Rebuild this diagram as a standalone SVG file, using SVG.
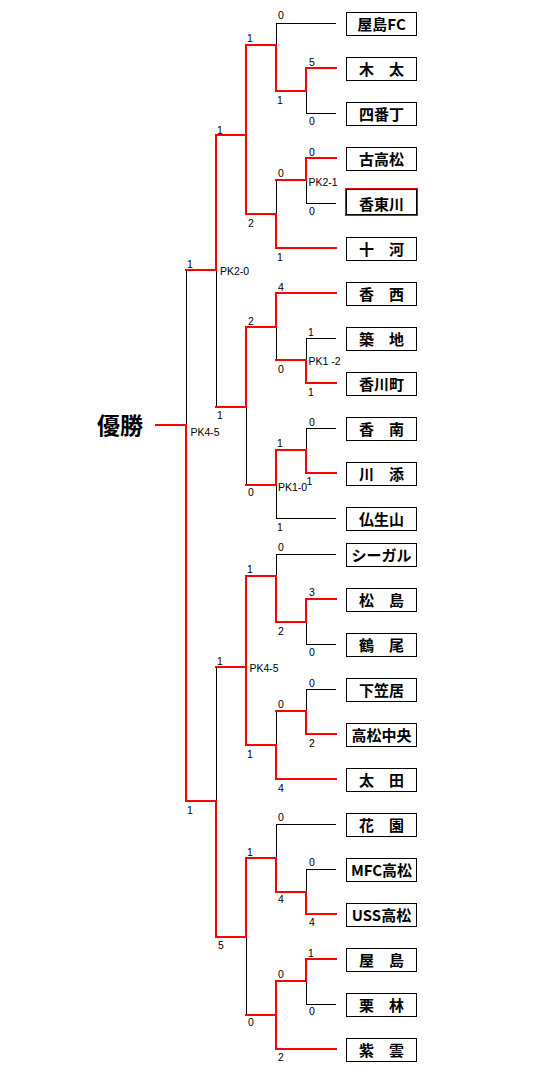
<svg xmlns="http://www.w3.org/2000/svg" width="540" height="1075" viewBox="0 0 540 1075">
<style>
.k{fill:none;stroke:#000;stroke-width:1}
.r{fill:none;stroke:#ff0000;stroke-width:2;stroke-linecap:square}
.box{fill:#fff;stroke:#000;stroke-width:1}
.tn{font-family:"Noto Sans CJK JP","Noto Sans CJK SC",sans-serif;font-weight:bold;font-size:15px;text-anchor:middle;fill:#000}
.s{font-family:"Liberation Sans",Arial,sans-serif;font-size:10.5px;fill:#000}
.win{font-family:"Noto Sans CJK JP","Noto Sans CJK SC",sans-serif;font-weight:bold;font-size:23px;fill:#000}
</style>
<rect width="540" height="1075" fill="#fff"/>
<g id="connectors">
<path class="k" d="M276,23.5H336 M306,113.5H336 M306.5,91V113 M276.5,23V45
M306,203.5H336 M306.5,180V203 M276.5,180V214
M306,338.5H336 M306.5,338V360 M276.5,327V360
M306,428.5H336 M306.5,428V450 M276,518.5H336 M276.5,485V518
M246.5,407V485 M216.5,270V407 M186.5,270V425
M276,554.5H336 M276.5,554V576 M306,644.5H336 M306.5,622V644
M306,689.5H336 M306.5,689V711 M276.5,711V745
M276,824.5H336 M276.5,824V858 M306,869.5H336 M306.5,869V892
M306,1004.5H336 M306.5,981V1004
M246.5,937V1015 M216.5,667V801"/>
<path class="r" d="M306,68H336 M306,68V91 M276,91H306 M276,45V91 M246,45H276
M306,158H336 M306,158V180 M276,180H306 M276,248H336 M276,214V248 M246,214H276
M246,45V214 M216,135H246
M276,293H336 M306,383H336 M306,360V383 M276,360H306 M276,293V327 M246,327H276
M306,473H336 M306,450V473 M276,450H306 M276,450V485 M246,485H276
M246,327V407 M216,407H246
M216,135V270 M186,270H216
M186,425V801 M156,425H186
M306,599H336 M306,599V622 M276,622H306 M276,576V622 M246,576H276
M306,734H336 M306,711V734 M276,711H306 M276,779H336 M276,745V779 M246,745H276
M246,576V745 M216,667H246
M306,914H336 M306,892V914 M276,892H306 M276,858V892 M246,858H276
M306,959H336 M306,959V981 M276,981H306 M276,981V1049 M276,1049H336 M246,1015H276
M246,858V937 M216,937H246
M216,801V937 M186,801H216"/>
</g>
<g id="scores">
<text class="s" x="278" y="19">0</text>
<text class="s" x="309" y="66">5</text>
<text class="s" x="309" y="125">0</text>
<text class="s" x="277" y="104">1</text>
<text class="s" x="247" y="42">1</text>
<text class="s" x="309" y="156">0</text>
<text class="s" x="309" y="215">0</text>
<text class="s" x="308.5" y="186">PK2-1</text>
<text class="s" x="278" y="177">0</text>
<text class="s" x="277" y="261">1</text>
<text class="s" x="248" y="227">2</text>
<text class="s" x="217" y="134">1</text>
<text class="s" x="187" y="268">1</text>
<text class="s" x="220" y="275">PK2-0</text>
<text class="s" x="278" y="291">4</text>
<text class="s" x="308" y="336">1</text>
<text class="s" x="308" y="396">1</text>
<text class="s" x="308.5" y="365">PK1 -2</text>
<text class="s" x="278" y="373">0</text>
<text class="s" x="248" y="325">2</text>
<text class="s" x="217" y="419">1</text>
<text class="s" x="309" y="426">0</text>
<text class="s" x="306.5" y="485">1</text>
<text class="s" x="277" y="447">1</text>
<text class="s" x="278" y="491">PK1-0</text>
<text class="s" x="277" y="531">1</text>
<text class="s" x="248" y="496">0</text>
<text class="s" x="190.5" y="436">PK4-5</text>
<text class="s" x="278" y="551">0</text>
<text class="s" x="309" y="596">3</text>
<text class="s" x="309" y="656">0</text>
<text class="s" x="278" y="635">2</text>
<text class="s" x="247" y="573">1</text>
<text class="s" x="217" y="665">1</text>
<text class="s" x="249.5" y="672">PK4-5</text>
<text class="s" x="309" y="687">0</text>
<text class="s" x="309" y="747">2</text>
<text class="s" x="278" y="708">0</text>
<text class="s" x="278" y="792">4</text>
<text class="s" x="247" y="758">1</text>
<text class="s" x="187" y="814">1</text>
<text class="s" x="278" y="821">0</text>
<text class="s" x="309" y="866">0</text>
<text class="s" x="309" y="926">4</text>
<text class="s" x="278" y="903">4</text>
<text class="s" x="247" y="856">1</text>
<text class="s" x="218" y="949">5</text>
<text class="s" x="308" y="957">1</text>
<text class="s" x="309" y="1015">0</text>
<text class="s" x="278" y="978">0</text>
<text class="s" x="278" y="1061">2</text>
<text class="s" x="248" y="1026">0</text>
</g>
<g id="winner"><text class="win" x="97" y="434">優勝</text></g>
<g id="t1"><rect class="box" x="346.5" y="12.5" width="70" height="23"/><text class="tn" x="381.5" y="29.5">屋島FC</text></g>
<g id="t2"><rect class="box" x="346.5" y="57.5" width="70" height="23"/><text class="tn" x="381.5" y="74.5">木　太</text></g>
<g id="t3"><rect class="box" x="346.5" y="102.5" width="70" height="23"/><text class="tn" x="381.5" y="119.5">四番丁</text></g>
<g id="t4"><rect class="box" x="346.5" y="147.5" width="70" height="23"/><text class="tn" x="381.5" y="164.5">古高松</text></g>
<g id="t5"><rect x="345.5" y="188.5" width="72" height="27" fill="none" stroke="#ff0000" stroke-width="1"/><rect class="box" x="346.5" y="189.5" width="70" height="25"/><text class="tn" x="381.5" y="209.5">香東川</text></g>
<g id="t6"><rect class="box" x="346.5" y="237.5" width="70" height="23"/><text class="tn" x="381.5" y="254.5">十　河</text></g>
<g id="t7"><rect class="box" x="346.5" y="282.5" width="70" height="23"/><text class="tn" x="381.5" y="299.5">香　西</text></g>
<g id="t8"><rect class="box" x="346.5" y="327.5" width="70" height="23"/><text class="tn" x="381.5" y="344.5">築　地</text></g>
<g id="t9"><rect class="box" x="346.5" y="372.5" width="70" height="23"/><text class="tn" x="381.5" y="389.5">香川町</text></g>
<g id="t10"><rect class="box" x="346.5" y="417.5" width="70" height="23"/><text class="tn" x="381.5" y="434.5">香　南</text></g>
<g id="t11"><rect class="box" x="346.5" y="462.5" width="70" height="23"/><text class="tn" x="381.5" y="479.5">川　添</text></g>
<g id="t12"><rect class="box" x="346.5" y="507.5" width="70" height="23"/><text class="tn" x="381.5" y="524.5">仏生山</text></g>
<g id="t13"><rect class="box" x="346.5" y="543.5" width="70" height="23"/><text class="tn" x="381.5" y="560.5">シーガル</text></g>
<g id="t14"><rect class="box" x="346.5" y="588.5" width="70" height="23"/><text class="tn" x="381.5" y="605.5">松　島</text></g>
<g id="t15"><rect class="box" x="346.5" y="633.5" width="70" height="23"/><text class="tn" x="381.5" y="650.5">鶴　尾</text></g>
<g id="t16"><rect class="box" x="346.5" y="678.5" width="70" height="23"/><text class="tn" x="381.5" y="695.5">下笠居</text></g>
<g id="t17"><rect class="box" x="346.5" y="723.5" width="70" height="23"/><text class="tn" x="381.5" y="740.5">高松中央</text></g>
<g id="t18"><rect class="box" x="346.5" y="768.5" width="70" height="23"/><text class="tn" x="381.5" y="785.5">太　田</text></g>
<g id="t19"><rect class="box" x="346.5" y="813.5" width="70" height="23"/><text class="tn" x="381.5" y="830.5">花　園</text></g>
<g id="t20"><rect class="box" x="346.5" y="858.5" width="70" height="23"/><text class="tn" x="381.5" y="875.5">MFC高松</text></g>
<g id="t21"><rect class="box" x="346.5" y="903.5" width="70" height="23"/><text class="tn" x="381.5" y="920.5">USS高松</text></g>
<g id="t22"><rect class="box" x="346.5" y="948.5" width="70" height="23"/><text class="tn" x="381.5" y="965.5">屋　島</text></g>
<g id="t23"><rect class="box" x="346.5" y="993.5" width="70" height="23"/><text class="tn" x="381.5" y="1010.5">栗　林</text></g>
<g id="t24"><rect class="box" x="346.5" y="1038.5" width="70" height="23"/><text class="tn" x="381.5" y="1055.5">紫　雲</text></g>
</svg>
